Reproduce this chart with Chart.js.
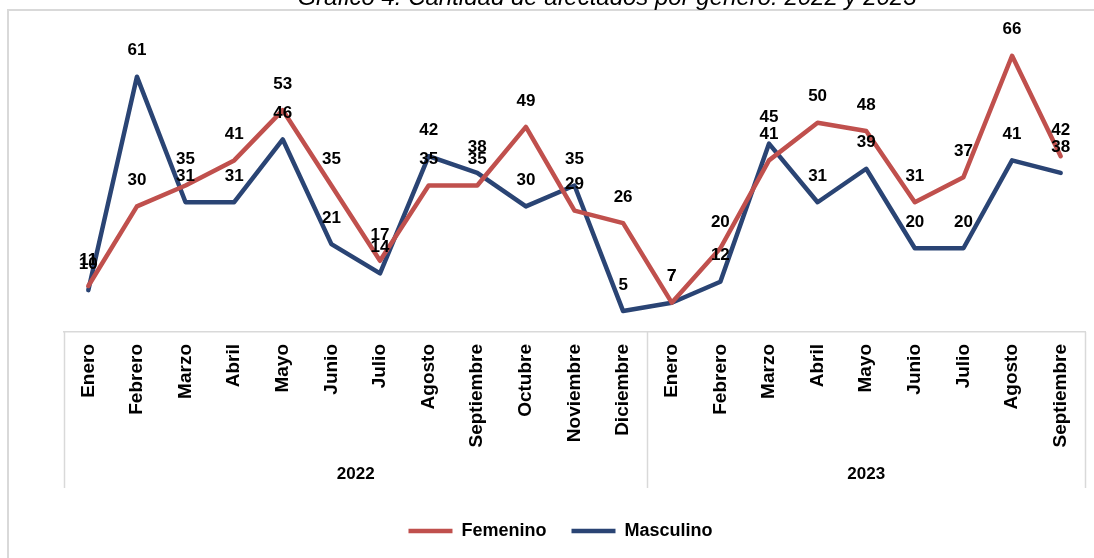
<!DOCTYPE html>
<html>
<head>
<meta charset="utf-8">
<script src="https://cdn.jsdelivr.net/npm/chart.js@4/dist/chart.umd.min.js"></script>
<style>
html,body{margin:0;padding:0;background:#fff;}
#wrap{position:relative;width:1094px;height:558px;}
</style>
</head>
<body>
<div id="wrap"><canvas id="c"></canvas></div>
<script>
const months = ["Enero","Febrero","Marzo","Abril","Mayo","Junio","Julio","Agosto","Septiembre","Octubre","Noviembre","Diciembre",
                "Enero","Febrero","Marzo","Abril","Mayo","Junio","Julio","Agosto","Septiembre"];
const yearGroups = [{label:"2022", from:0, to:11},{label:"2023", from:12, to:20}];
const femenino  = [11,30,35,41,53,35,17,35,35,49,29,26, 7,20,41,50,48,31,37,66,42];
const masculino = [10,61,31,31,46,21,14,42,38,30,35,5,  7,12,45,31,39,20,20,41,38];
const titleText = "Gráfico 4. Cantidad de afectados por género. 2022 y 2023";

const FONT = "'Liberation Sans', Arial, sans-serif";
const RED = "#C0504D";
const BLUE = "#2A4474";

const framePlugin = {
  id: 'frame',
  afterLayout(chart){
    if (chart.legend) { chart.legend.left -= 14; chart.legend.right -= 14; }
  },
  beforeDraw(chart){
    const ctx = chart.ctx;
    ctx.save();
    ctx.fillStyle = '#fff';
    ctx.fillRect(0,0,chart.width,chart.height);
    ctx.strokeStyle = '#D9D9D9';
    ctx.lineWidth = 2;
    ctx.beginPath();
    ctx.moveTo(8, chart.height);
    ctx.lineTo(8, 10);
    ctx.lineTo(chart.width, 10);
    ctx.stroke();
    // title (clipped at top)
    ctx.fillStyle = '#000';
    ctx.font = "italic 24px " + FONT;
    ctx.textAlign = 'center';
    ctx.textBaseline = 'alphabetic';
    ctx.fillText(titleText, 607, 5);
    ctx.restore();
  },
  afterDraw(chart){
    const ctx = chart.ctx;
    const xs = chart.scales.x;
    const top = chart.chartArea.bottom;
    const band = (xs.getPixelForValue(1) - xs.getPixelForValue(0));
    ctx.save();
    ctx.strokeStyle = '#D9D9D9';
    ctx.lineWidth = 1.5;
    const bounds = [];
    yearGroups.forEach((g,i)=>{
      const l = xs.getPixelForValue(g.from) - band/2;
      const r = xs.getPixelForValue(g.to) + band/2;
      if (i===0) bounds.push(l);
      bounds.push(r);
      ctx.fillStyle = '#000';
      ctx.font = "bold 17px " + FONT;
      ctx.textAlign = 'center';
      ctx.textBaseline = 'middle';
      ctx.fillText(g.label, (l+r)/2, 474);
    });
    bounds.forEach(b=>{
      ctx.beginPath();
      ctx.moveTo(Math.round(b)+0.5, top);
      ctx.lineTo(Math.round(b)+0.5, 488);
      ctx.stroke();
    });
    ctx.restore();
  }
};

const labelPlugin = {
  id: 'vlabels',
  afterDatasetsDraw(chart){
    const ctx = chart.ctx;
    ctx.save();
    ctx.fillStyle = '#000';
    ctx.font = "bold 17px " + FONT;
    ctx.textAlign = 'center';
    ctx.textBaseline = 'middle';
    chart.data.datasets.forEach((ds, di)=>{
      const meta = chart.getDatasetMeta(di);
      meta.data.forEach((pt, i)=>{
        ctx.fillText(String(ds.data[i]), pt.x, pt.y - 26);
      });
    });
    ctx.restore();
  }
};

new Chart(document.getElementById('c'), {
  type: 'line',
  data: {
    labels: months,
    datasets: [
      {label:'Femenino', data: femenino, borderColor: RED, backgroundColor: RED, borderWidth: 4.5, pointRadius: 0, tension: 0, borderCapStyle:'round', borderJoinStyle:'round'},
      {label:'Masculino', data: masculino, borderColor: BLUE, backgroundColor: BLUE, borderWidth: 4.5, pointRadius: 0, tension: 0, borderCapStyle:'round', borderJoinStyle:'round'}
    ]
  },
  options: {
    responsive: true,
    maintainAspectRatio: false,
    animation: false,
    layout: { padding: { top: 39, left: 64, right: 9, bottom: 8 } },
    plugins: {
      title: { display: false },
      tooltip: { enabled: false },
      legend: {
        position: 'bottom',
        labels: {
          usePointStyle: true,
          pointStyle: 'line',
          pointStyleWidth: 44,
          padding: 25,
          color: '#000',
          font: { family: FONT, size: 18, weight: 'bold' }
        }
      }
    },
    scales: {
      x: {
        offset: true,
        grid: { display: false, drawTicks: false },
        border: { display: true, color: '#D9D9D9', width: 1.5 },
        ticks: {
          minRotation: 90, maxRotation: 90, autoSkip: false, padding: 12,
          color: '#000',
          font: { family: FONT, size: 19, weight: 'bold' }
        },
        afterFit(scale){ scale.height = 165; scale.paddingLeft = 0; scale.paddingRight = 0; }
      },
      y: {
        display: false,
        min: 0, max: 70
      }
    }
  },
  plugins: [framePlugin, labelPlugin]
});
</script>
</body>
</html>
